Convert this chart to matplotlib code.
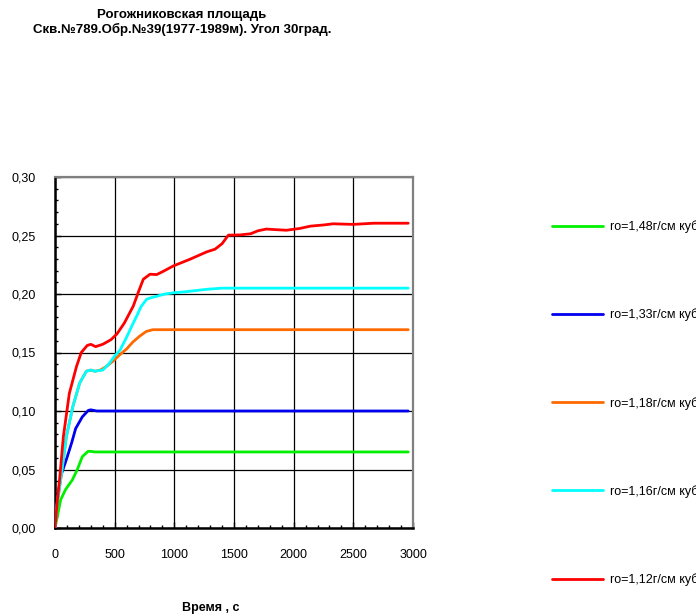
# Рогожниковская площадь: кривые по времени для разной плотности

import numpy as np
import matplotlib.pyplot as plt
from matplotlib.ticker import MultipleLocator

plt.rcParams['font.family'] = ['Liberation Sans', 'DejaVu Sans']

# 1. данные
green_t = [0, 20, 47, 89, 145, 187, 229, 277, 300, 333, 1000, 2000, 2960]
green = [0, 0.010, 0.024, 0.033, 0.041, 0.050, 0.061, 0.0655, 0.0655, 0.065, 0.065, 0.065, 0.065]

blue_t = [0, 20, 50, 100, 140, 173, 229, 279, 300, 350, 1000, 2000, 2960]
blue = [0, 0.025, 0.045, 0.060, 0.073, 0.085, 0.095, 0.1005, 0.101, 0.100, 0.100, 0.100, 0.100]

orange_t = [0, 20, 47, 95, 150, 207, 263, 300, 333, 380, 430, 490, 542, 600, 653, 710, 765, 820, 900, 1000, 2000, 2960]
orange = [0, 0.022, 0.041, 0.078, 0.104, 0.124, 0.134, 0.135, 0.134, 0.135, 0.138, 0.143, 0.148, 0.153,
          0.159, 0.164, 0.168, 0.1695, 0.1695, 0.1695, 0.1695, 0.1695]

cyan_t = [0, 20, 47, 95, 150, 207, 263, 300, 333, 400, 450, 500, 545, 600, 650, 684, 720, 768, 810, 852,
          920, 992, 1100, 1271, 1400, 1551, 2000, 2500, 2960]
cyan = [0, 0.022, 0.041, 0.078, 0.104, 0.124, 0.134, 0.135, 0.134, 0.135, 0.140, 0.147, 0.152, 0.163,
        0.174, 0.181, 0.189, 0.1955, 0.197, 0.198, 0.200, 0.201, 0.202, 0.204, 0.205, 0.205, 0.205, 0.205, 0.205]

red_t = [0, 20, 38, 70, 120, 180, 220, 270, 300, 340, 400, 470, 520, 580, 656, 700, 740, 796, 852, 900,
         992, 1131, 1271, 1341, 1400, 1453, 1550, 1640, 1700, 1770, 1850, 1940, 2050, 2140, 2250, 2330,
         2500, 2670, 2800, 2960]
red = [0, 0.024, 0.041, 0.078, 0.115, 0.138, 0.150, 0.156, 0.157, 0.155, 0.157, 0.161, 0.166, 0.175,
       0.1897, 0.202, 0.2126, 0.2169, 0.2166, 0.219, 0.224, 0.2297, 0.236, 0.2383, 0.243, 0.2503, 0.2505,
       0.2515, 0.254, 0.2555, 0.255, 0.2545, 0.256, 0.258, 0.259, 0.260, 0.2595, 0.2605, 0.2605, 0.2605]

labels = ['ro=1,48г/см куб', 'ro=1,33г/см куб', 'ro=1,18г/см куб', 'ro=1,16г/см куб', 'ro=1,12г/см куб']
colors = ['#00f000', '#0000ee', '#ff6a00', '#00ffff', '#ff0000']

x_ticks = [0, 500, 1000, 1500, 2000, 2500, 3000]
y_ticks = [0.0, 0.05, 0.10, 0.15, 0.20, 0.25, 0.30]
y_ticklabels = ['0,00', '0,05', '0,10', '0,15', '0,20', '0,25', '0,30']

# 2. окно
fig = plt.figure(figsize=(6.96, 6.15), dpi=100)
ax = fig.add_axes([55 / 696, 1 - 528 / 615, 358 / 696, 351 / 615])

series = [(green_t, green), (blue_t, blue), (orange_t, orange), (cyan_t, cyan), (red_t, red)]
for (t, v), c, lab in zip(series, colors, labels):
    ax.plot(t, v, color=c, lw=2.0, label=lab, solid_capstyle='round', zorder=3)

ax.set_xlim(0, 3000)
ax.set_ylim(0, 0.30)
ax.set_xticks(x_ticks)
ax.set_yticks(y_ticks)
ax.set_yticklabels(y_ticklabels)
ax.xaxis.set_minor_locator(MultipleLocator(100))
ax.yaxis.set_minor_locator(MultipleLocator(0.01))
ax.tick_params(which='major', direction='in', length=4, width=1, labelsize=9, color='black')
ax.tick_params(which='minor', direction='in', length=2.5, width=1, color='black')
ax.tick_params(axis='y', pad=14)
ax.tick_params(axis='x', pad=15)
ax.grid(True, which='major', color='black', lw=0.9)

for s in ['left', 'bottom']:
    ax.spines[s].set_color('black')
    ax.spines[s].set_linewidth(1.8)
for s in ['top', 'right']:
    ax.spines[s].set_color('#808080')
    ax.spines[s].set_linewidth(1.6)

ax.set_xlabel('Время , с', fontsize=9, fontweight='bold')
ax.xaxis.set_label_coords((211 - 55) / 358, -0.21)

fig.text(182 / 696, 1 - 9 / 615,
         'Рогожниковская площадь\nСкв.№789.Обр.№39(1977-1989м). Угол 30град.',
         ha='center', va='top', fontsize=9.5, fontweight='bold', linespacing=1.2)

# легенда справа, подписи уходят за край, как в оригинале
fig.legend(loc='upper left', bbox_to_anchor=(552 / 696, 1 - 220 / 615), frameon=False,
           fontsize=9, handlelength=4.1, handletextpad=0.5, labelspacing=6.03,
           borderpad=0, borderaxespad=0)

# 3. сохранение
plt.savefig('out.png', dpi=100)
